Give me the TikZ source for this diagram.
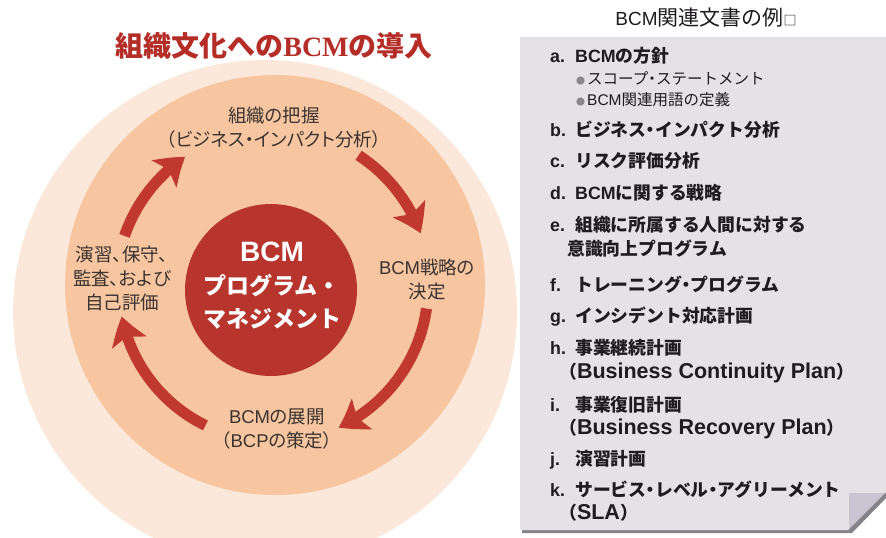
\documentclass[tikz,border=0pt]{standalone}
\usepackage{fontspec}
\setmainfont{Liberation Sans}
\newfontfamily\jp{Noto Sans CJK JP}
\newfontfamily\jpp{Noto Sans CJK JP}[RawFeature=+palt]
\newfontfamily\lsans{Liberation Sans}
\newfontfamily\lserif{Liberation Serif}
\usetikzlibrary{arrows.meta,bending,calc}
\definecolor{outerc}{HTML}{FBE8DA}
\definecolor{innerc}{HTML}{F7C6A0}
\definecolor{corec}{HTML}{B7352C}
\definecolor{arrowc}{HTML}{C0382E}
\definecolor{titlec}{HTML}{B52D27}
\definecolor{panelc}{HTML}{E5E2E7}
\definecolor{flapc}{HTML}{CBC4D2}
\definecolor{shadowc}{HTML}{858289}
\definecolor{txtc}{HTML}{3A3330}
\definecolor{listc}{HTML}{1E1C1E}
\definecolor{bulletc}{HTML}{8A878C}
\newcommand\lbl[1]{\makebox[25pt][l]{\lsans #1}}
\newcommand\bul{{\color{bulletc}\fontsize{9}{9}\selectfont ●}\hspace{2pt}}
\newcommand\lat[1]{{\lsans\fontsize{21.5}{22}\selectfont #1}}
\newcommand\md{\makebox[0.5em][c]{・}}
\begin{document}
\begin{tikzpicture}[x=1pt,y=-1pt,
  cyc/.style={text=txtc, font=\jpp\fontsize{18.5}{24}\selectfont, align=center, inner sep=0pt},
  itm/.style={anchor=west, text=listc, font=\jp\bfseries\fontsize{17.8}{22}\selectfont, inner sep=0pt},
  subitm/.style={anchor=west, text=listc, font=\jp\fontsize{15.5}{22}\selectfont, inner sep=0pt},
  arr/.style={draw=arrowc, line width=11pt, -{Stealth[length=27pt,width=36pt,inset=6pt,bend]}}
]
\useasboundingbox (0,0) rectangle (886,538);
\clip (0,0) rectangle (886,538);
\fill[white] (0,0) rectangle (886,538);

% circles
\fill[outerc] (265,312) circle[radius=252];
\fill[innerc] (275,285) circle[radius=210];
\node[circle, fill=corec, minimum size=172pt, inner sep=0pt] (core) at (271,290) {};
\node[text=white, align=center, inner sep=0pt, font=\jp\bfseries\fontsize{23}{33}\selectfont] (coretxt) at (272,286)
  {{\lsans\fontsize{28}{33}\selectfont BCM}\\プログラム・\\マネジメント};

% title
\node[text=titlec, font=\jp\bfseries\fontsize{28}{30}\selectfont, inner sep=0pt] (title) at (274,46)
  {組織文化への{\lserif BCM}の導入};

% cycle labels
\node[cyc] (s1) at (274,128) {組織の把握\\（ビジネス・インパクト分析）};
\node[cyc] (s2) at (427,279) {{\lsans BCM}戦略の\\決定};
\node[cyc] (s3) at (277,429) {{\lsans BCM}の展開\\（{\lsans BCP}の策定）};
\node[cyc] (s4) at (122,278) {演習、保守、\\監査、および\\自己評価};

% arrows
\coordinate (c) at (273,287);
\coordinate (a1) at ($(c)+(199:157)$);
\coordinate (a2) at ($(c)+(303:157)$);
\coordinate (a3) at ($(c)+(8:155)$);
\coordinate (a4) at ($(c)+(116:154)$);
\draw[arr] (a1) arc[start angle=199, end angle=236, radius=157];
\draw[arr] (a2) arc[start angle=303, end angle=340, radius=157];
\draw[arr] (a3) arc[start angle=8, end angle=65, radius=155];
\draw[arr] (a4) arc[start angle=116, end angle=169, radius=154];

% panel
\fill[shadowc] (522,40) -- (888,40) -- (888,496) -- (852,533) -- (522,533) -- cycle;
\fill[panelc] (520,37) -- (886,37) -- (886,493) -- (849,530) -- (520,530) -- cycle;
\fill[flapc] (849,493) -- (886,493) -- (849,530) -- cycle;
\draw[shadowc, line width=0.8pt] (886,493) -- (849,530);

\node[text=listc, font=\jp\fontsize{21}{22}\selectfont, inner sep=0pt] (ptitle) at (706,18)
  {{\lsans\fontsize{19}{22}\selectfont BCM}関連文書の例{\fontsize{13}{13}\selectfont □}};

\node[itm] (ia) at (550,56) {\lbl{a.}{\lsans BCM}の方針};
\node[subitm] (ia1) at (576,78) {\bul スコープ\md ステートメント};
\node[subitm] (ia2) at (576,100) {\bul {\lsans BCM}関連用語の定義};
\node[itm] (ib) at (550,130) {\lbl{b.}ビジネス\md インパクト分析};
\node[itm] (ic) at (550,161) {\lbl{c.}リスク評価分析};
\node[itm] (id) at (550,193) {\lbl{d.}{\lsans BCM}に関する戦略};
\node[itm] (ie) at (550,225) {\lbl{e.}組織に所属する人間に対する};
\node[itm] (ie2) at (567,249) {意識向上プログラム};
\node[itm] (if) at (550,285) {\lbl{f.}トレーニング\md プログラム};
\node[itm] (ig) at (550,317) {\lbl{g.}インシデント対応計画};
\node[itm] (ih) at (550,348) {\lbl{h.}事業継続計画};
\node[itm] (ih2) at (559,373) {（\lat{Business Continuity Plan}）};
\node[itm] (ii) at (550,405) {\lbl{i.}事業復旧計画};
\node[itm] (ii2) at (559,429) {（\lat{Business Recovery Plan}）};
\node[itm] (ij) at (550,460) {\lbl{j.}演習計画};
\node[itm] (ik) at (550,490) {\lbl{k.}サービス\md レベル\md アグリーメント};
\node[itm] (ik2) at (559,513) {（\lat{SLA}）};
\end{tikzpicture}
\end{document}
